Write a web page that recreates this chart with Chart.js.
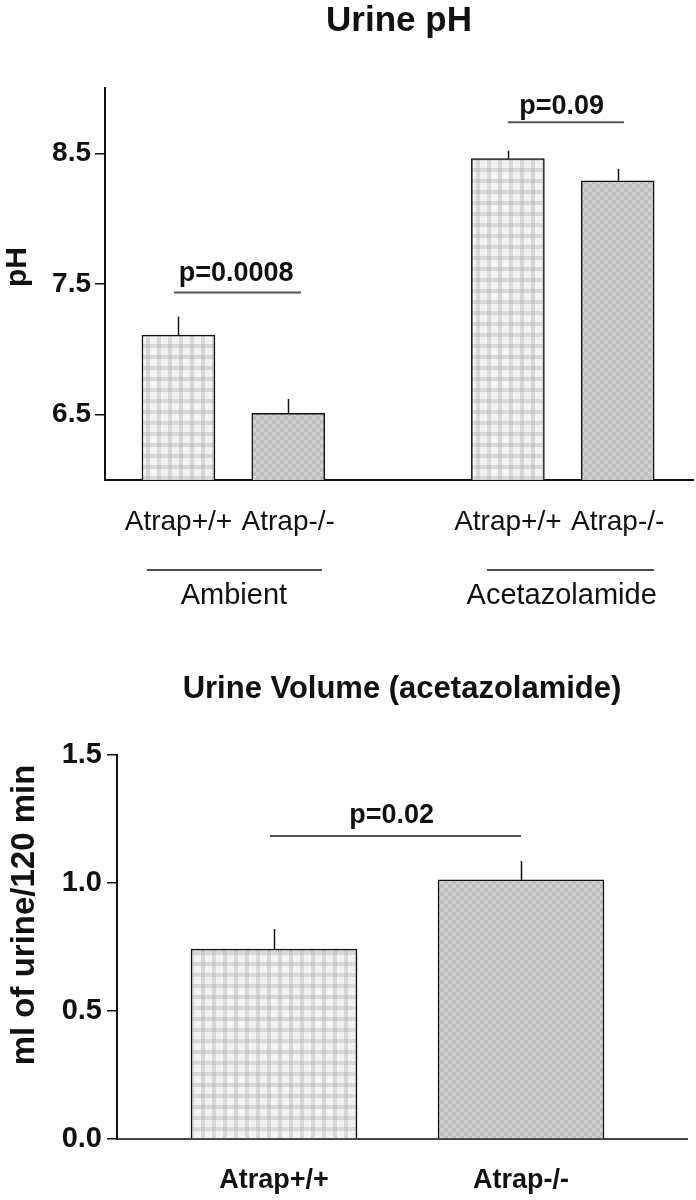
<!DOCTYPE html>
<html>
<head>
<meta charset="utf-8">
<script src="https://cdn.jsdelivr.net/npm/chart.js@4.4.1/dist/chart.umd.min.js"></script>
<style>
    body { margin: 0; background: #fff; width: 696px; height: 1200px; overflow: hidden; position: relative; }
    canvas { position: absolute; left: 0; }
    #phChart { top: 0; }
    #volChart { top: 640px; }
</style>
</head>
<body>
<canvas id="phChart" width="696" height="640"></canvas>
<canvas id="volChart" width="696" height="560"></canvas>
<script>
// Urine pH (top panel)
const phLabels = ['Atrap+/+', 'Atrap-/-', 'Atrap+/+', 'Atrap-/-'];
const phSlots = [1, 2, 4, 5];
const phMeans = [7.11, 6.51, 8.46, 8.29];
const phErrors = [0.14, 0.11, 0.06, 0.09];
const phTicks = [6.5, 7.5, 8.5];
const phGroups = ['Ambient', 'Acetazolamide'];
const phPValues = ['p=0.0008', 'p=0.09'];

// Urine volume (bottom panel)
const volLabels = ['Atrap+/+', 'Atrap-/-'];
const volSlots = [1, 2];
const volMeans = [0.742, 1.012];
const volErrors = [0.078, 0.074];
const volTicks = [0, 0.5, 1.0, 1.5];
const volPValues = ['p=0.02'];

const FONT = '"Liberation Sans", Arial, Helvetica, sans-serif';
const INK = '#111';

// fill patterns like the printed figure
function makePattern(kind) {
    const c = document.createElement('canvas');
    const ctx = c.getContext('2d');
    if (kind === 'plaid') {
        c.width = c.height = 11;
        ctx.fillStyle = '#f2f2f2';
        ctx.fillRect(0, 0, 11, 11);
        ctx.fillStyle = 'rgba(170,170,170,0.35)';
        ctx.fillRect(3, 0, 4, 11);
        ctx.fillRect(0, 3, 11, 4);
    } else {
        c.width = c.height = 8;
        ctx.fillStyle = '#bcbcbc';
        ctx.fillRect(0, 0, 8, 8);
        ctx.fillStyle = '#d0d0d0';
        ctx.fillRect(0, 0, 4, 4);
        ctx.fillRect(4, 4, 4, 4);
    }
    return ctx.createPattern(c, 'repeat');
}
const plaid = makePattern('plaid');
const checker = makePattern('checker');

function line(ctx, x1, y1, x2, y2) {
    ctx.beginPath();
    ctx.moveTo(x1, y1);
    ctx.lineTo(x2, y2);
    ctx.stroke();
}

// titles, error whiskers, p-value bars and group labels
const annotate = {
    id: 'annotate',
    afterDatasetsDraw(chart, args, o) {
        const { ctx, chartArea: a, scales: { x, y } } = chart;
        ctx.save();
        ctx.fillStyle = INK;
        ctx.textAlign = 'center';
        ctx.textBaseline = 'middle';

        ctx.font = o.titleFont;
        ctx.fillText(o.title, (a.left + a.right) / 2, o.titleY);

        ctx.save();
        ctx.translate(o.yTitleX, o.yTitleY);
        ctx.rotate(-Math.PI / 2);
        ctx.font = o.yTitleFont;
        ctx.fillText(o.yTitle, 0, 0);
        ctx.restore();

        // upward error whiskers
        ctx.strokeStyle = INK;
        ctx.lineWidth = 1.5;
        o.slots.forEach((s, i) => {
            const px = Math.round(x.getPixelForValue(s)) + 0.5;
            line(ctx, px, y.getPixelForValue(o.means[i]), px, y.getPixelForValue(o.means[i] + o.errors[i]));
        });

        // significance bars
        ctx.font = o.pFont;
        o.brackets.forEach((b) => {
            const yy = y.getPixelForValue(b.y);
            ctx.strokeStyle = '#555';
            ctx.lineWidth = 2;
            line(ctx, x.getPixelForValue(b.from), yy, x.getPixelForValue(b.to), yy);
            ctx.fillText(b.text, x.getPixelForValue(b.textX), yy - b.lift);
        });

        // group labels under the axis
        (o.groups || []).forEach((g) => {
            const yy = a.bottom + 90;
            ctx.strokeStyle = INK;
            ctx.lineWidth = 1.5;
            line(ctx, x.getPixelForValue(g.from), yy, x.getPixelForValue(g.to), yy);
            ctx.font = o.groupFont;
            ctx.fillText(g.text, x.getPixelForValue(g.textX), yy + 26);
        });
        ctx.restore();
    }
};

new Chart(document.getElementById('phChart'), {
    type: 'bar',
    data: {
        datasets: [{
            data: phSlots.map((s, i) => ({ x: s, y: phMeans[i] })),
            backgroundColor: [plaid, checker, plaid, checker],
            borderColor: INK,
            borderWidth: 1.5,
            barThickness: 73,
            base: 6
        }]
    },
    options: {
        responsive: false,
        animation: false,
        devicePixelRatio: 1,
        layout: { padding: { top: 88, left: 0, right: 3, bottom: 80 } },
        plugins: {
            legend: { display: false },
            tooltip: { enabled: false },
            annotate: {
                title: 'Urine pH',
                titleFont: 'bold 35px ' + FONT,
                titleY: 21,
                yTitle: 'pH',
                yTitleFont: 'bold 30px ' + FONT,
                yTitleX: 18,
                yTitleY: 267,
                slots: phSlots,
                means: phMeans,
                errors: phErrors,
                pFont: 'bold 27px ' + FONT,
                brackets: [
                    { from: 0.96, to: 2.116, y: 7.435, text: phPValues[0], textX: 1.525, lift: 19 },
                    { from: 4.0, to: 5.057, y: 8.738, text: phPValues[1], textX: 4.49, lift: 16 }
                ],
                groupFont: '29px ' + FONT,
                groups: [
                    { from: 0.713, to: 2.307, text: phGroups[0], textX: 1.505 },
                    { from: 3.81, to: 5.33, text: phGroups[1], textX: 4.49 }
                ]
            }
        },
        scales: {
            x: {
                type: 'linear',
                min: 0.331,
                max: 5.686,
                offset: false,
                afterBuildTicks: (s) => { s.ticks = phSlots.map((v) => ({ value: v })); },
                afterFit: (s) => { s.height = 80; },
                grid: { display: false, drawTicks: false, offset: false },
                border: { color: INK, width: 2 },
                ticks: {
                    padding: 25,
                    color: INK,
                    font: { family: FONT, size: 28 },
                    maxRotation: 0,
                    autoSkip: false,
                    callback: (v) => phLabels[phSlots.indexOf(v)]
                }
            },
            y: {
                min: 6,
                max: 9,
                afterBuildTicks: (s) => { s.ticks = phTicks.map((v) => ({ value: v })); },
                afterFit: (s) => { s.width = 105; },
                grid: { drawOnChartArea: false, tickLength: 10, color: INK, lineWidth: 1.5 },
                border: { color: INK, width: 2 },
                ticks: {
                    padding: 4,
                    color: INK,
                    font: { family: FONT, size: 28, weight: 'bold' },
                    callback: (v) => v.toFixed(1)
                }
            }
        }
    },
    plugins: [annotate]
});

new Chart(document.getElementById('volChart'), {
    type: 'bar',
    data: {
        datasets: [{
            data: volSlots.map((s, i) => ({ x: s, y: volMeans[i] })),
            backgroundColor: [plaid, checker],
            borderColor: INK,
            borderWidth: 1.5,
            barThickness: 166,
            base: 0
        }]
    },
    options: {
        responsive: false,
        animation: false,
        devicePixelRatio: 1,
        layout: { padding: { top: 115, left: 0, right: 9, bottom: 0 } },
        plugins: {
            legend: { display: false },
            tooltip: { enabled: false },
            annotate: {
                title: 'Urine Volume (acetazolamide)',
                titleFont: 'bold 31px ' + FONT,
                titleY: 49,
                yTitle: 'ml of urine/120 min',
                yTitleFont: 'bold 33px ' + FONT,
                yTitleX: 25,
                yTitleY: 275,
                slots: volSlots,
                means: volMeans,
                errors: volErrors,
                pFont: 'bold 27px ' + FONT,
                brackets: [
                    { from: 0.984, to: 2.0, y: 1.184, text: volPValues[0], textX: 1.476, lift: 20 }
                ]
            }
        },
        scales: {
            x: {
                type: 'linear',
                min: 0.3644,
                max: 2.672,
                offset: false,
                afterBuildTicks: (s) => { s.ticks = volSlots.map((v) => ({ value: v })); },
                afterFit: (s) => { s.height = 61; },
                grid: { display: false, drawTicks: false, offset: false },
                border: { color: '#444', width: 2 },
                ticks: {
                    padding: 25,
                    color: INK,
                    font: { family: FONT, size: 27, weight: 'bold' },
                    maxRotation: 0,
                    autoSkip: false,
                    callback: (v) => volLabels[volSlots.indexOf(v)]
                }
            },
            y: {
                min: 0,
                max: 1.5,
                afterBuildTicks: (s) => { s.ticks = volTicks.map((v) => ({ value: v })); },
                afterFit: (s) => { s.width = 117; },
                grid: { drawOnChartArea: false, tickLength: 10, color: INK, lineWidth: 1.5 },
                border: { color: INK, width: 2 },
                ticks: {
                    padding: 5,
                    color: INK,
                    font: { family: FONT, size: 29, weight: 'bold' },
                    callback: (v) => v.toFixed(1)
                }
            }
        }
    },
    plugins: [annotate]
});
</script>
</body>
</html>
